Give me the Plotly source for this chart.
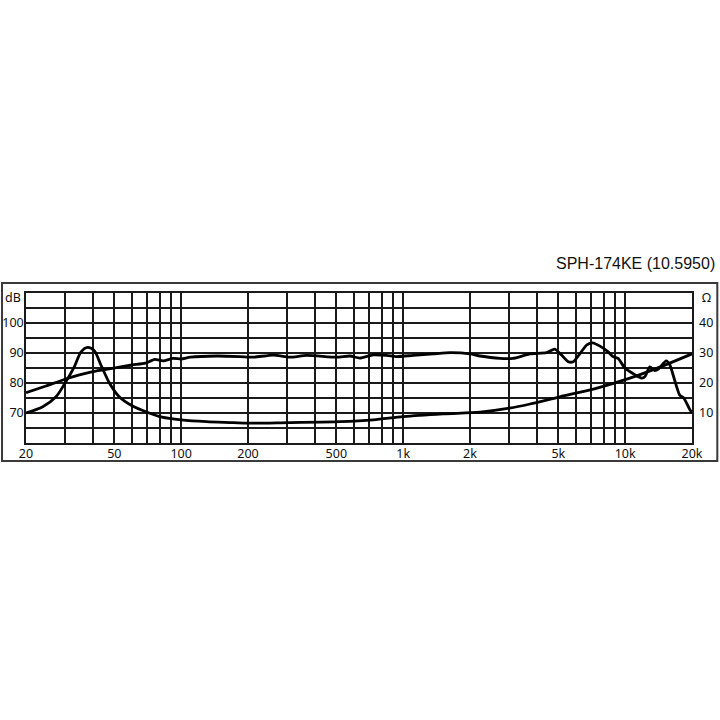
import plotly.graph_objects as go

# ---- data ----
spl_freq = [20, 24.6, 29.3, 34.8, 40, 49, 60, 69, 76, 83, 92, 100, 110, 145, 184, 211, 260, 308,
            368, 502, 576, 638, 734, 842, 936, 1110, 1370, 1630, 2000, 2220, 2730, 3120, 3730,
            4420, 4820, 5170, 5540, 5840, 6270, 6720, 7140, 7700, 8380, 8820, 9290, 10000,
            11100, 11900, 12300, 12900, 13600, 14100, 15300, 15900, 16700, 17600, 18400, 19600, 20000]
spl_db = [76.8, 79.0, 81.0, 82.7, 83.8, 84.9, 86.0, 86.6, 87.9, 87.4, 88.2, 88.0, 88.6, 89.0, 88.8,
          88.6, 89.3, 88.6, 89.2, 88.6, 89.0, 88.3, 89.4, 89.2, 88.8, 89.2, 89.7, 90.1, 89.7, 89.0,
          88.2, 88.2, 89.7, 90.1, 91.3, 89.3, 87.1, 87.1, 89.9, 92.7, 93.4, 92.3, 90.4, 88.8, 88.2,
          84.9, 82.7, 81.6, 82.2, 85.4, 84.1, 84.6, 87.4, 86.0, 81.0, 76.0, 74.9, 71.0, 70.1]

imp_freq = [20, 23.8, 27.3, 30, 33, 35.4, 37.9, 40.6, 43.5, 47.5, 52.6, 60.4, 71.8, 82, 100, 130,
            172, 200, 304, 518, 734, 1000, 1514, 2220, 3012, 3730, 5080, 7400, 10500, 14900, 20000]
imp_ohm = [10.0, 12.1, 15.4, 20.0, 25.4, 30.4, 31.9, 30.8, 26.0, 20.0, 15.4, 12.3, 10.0, 8.6, 7.7,
           7.1, 6.8, 6.6, 6.8, 7.1, 7.7, 8.8, 9.7, 10.3, 11.6, 13.0, 15.4, 18.2, 21.6, 25.8, 29.7]

x_grid = [20, 30, 40, 50, 60, 70, 80, 90, 100, 200, 300, 400, 500, 600, 700, 800, 900,
          1000, 2000, 3000, 4000, 5000, 6000, 7000, 8000, 9000, 10000, 20000]
x_labels = {20: "20", 50: "50", 100: "100", 200: "200", 500: "500", 1000: "1k",
            2000: "2k", 5000: "5k", 10000: "10k", 20000: "20k"}
db_grid = [60, 65, 70, 75, 80, 85, 90, 95, 100, 105, 110]
db_labels = {70: "70", 80: "80", 90: "90", 100: "100"}
ohm_ticks = [10, 20, 30, 40]
title_text = "SPH-174KE (10.5950)"

FONT = "Noto Sans"
fig = go.Figure()
fig.add_trace(go.Scatter(x=spl_freq, y=spl_db, mode="lines",
                         line=dict(color="black", width=2.8, shape="spline", smoothing=0.6),
                         showlegend=False, hoverinfo="skip"))
fig.add_trace(go.Scatter(x=imp_freq, y=imp_ohm, mode="lines", yaxis="y2",
                         line=dict(color="black", width=2.8, shape="spline", smoothing=0.8),
                         showlegend=False, hoverinfo="skip"))

fig.update_layout(
    width=720, height=720,
    paper_bgcolor="white", plot_bgcolor="white",
    margin=dict(l=26, r=28, t=293, b=277, autoexpand=False),
    font=dict(family=FONT, size=12.5, color="#111"),
    xaxis=dict(type="log", range=[1.30103, 4.30103], automargin=False,
               tickvals=x_grid, ticktext=[x_labels.get(v, "") for v in x_grid],
               showgrid=True, gridcolor="#1a1a1a", gridwidth=1.6,
               showline=True, linecolor="#1a1a1a", linewidth=1.6, mirror=True,
               ticks="", zeroline=False, ticklabelstandoff=-2),
    yaxis=dict(range=[60, 110], tickvals=db_grid, automargin=False,
               ticktext=[db_labels.get(v, "") for v in db_grid],
               showgrid=True, gridcolor="#1a1a1a", gridwidth=1.6,
               showline=True, linecolor="#1a1a1a", linewidth=1.6, mirror=True,
               ticks="", zeroline=False, ticklabelstandoff=-2),
    yaxis2=dict(range=[0, 50], overlaying="y", side="right", tickvals=ohm_ticks,
                automargin=False,
                ticktext=[str(v) for v in ohm_ticks], showgrid=False, ticks="",
                zeroline=False, showline=False, ticklabelstandoff=6),
    shapes=[dict(type="rect", xref="paper", yref="paper",
                 x0=-0.036, x1=1.038, y0=-0.12, y1=1.066,
                 line=dict(color="#3a3a3a", width=2), layer="below")],
    annotations=[
        dict(text="dB", xref="paper", yref="paper", x=-0.005, y=0.97, xanchor="right",
             yanchor="middle", showarrow=False, font=dict(family=FONT, size=12.5, color="#111")),
        dict(text="Ω", xref="paper", yref="paper", x=1.012, y=0.97, xanchor="left",
             yanchor="middle", showarrow=False, font=dict(family=FONT, size=12.5, color="#111")),
        dict(text=title_text, xref="paper", yref="paper", x=1.038, y=1.2, xanchor="right",
             yanchor="middle", showarrow=False,
             font=dict(family="Liberation Sans, Arial", size=16, color="#111")),
    ],
)

fig.write_html("out.html", config={"displayModeBar": False},
               post_script="document.body.style.margin='0px';document.body.style.overflow='hidden';")
